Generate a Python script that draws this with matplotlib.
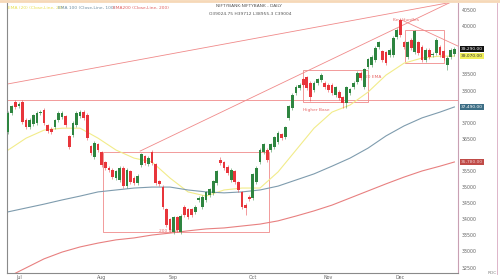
import numpy as np
import matplotlib
matplotlib.use("Agg")
import matplotlib.pyplot as plt
from matplotlib.patches import Rectangle

# daily candles, Jul - Dec (bar index = trading day)
opens = [36710, 37300, 37640, 37520, 37640, 37080, 36870, 36960, 36990, 37300,
         37390, 36900, 36800, 36870, 37080, 37180, 37180, 36560, 36620, 36930,
         37210, 37330, 37240, 36250, 35940, 36310, 36060, 35750, 35590, 35530,
         35280, 35220, 35590, 35030, 35470, 35280, 35130, 35690, 35940, 35720,
         36060, 35690, 35160, 35000, 34290, 33980, 33600, 34040, 33600, 34380,
         34290, 34290, 34230, 34600, 34380, 34600, 34750, 34820, 35130, 35840,
         35750, 35620, 35220, 35470, 35130, 34820, 34440, 34690, 34660, 35160,
         35780, 36090, 36150, 36150, 36250, 36400, 36620, 36560, 37150, 37460,
         37920, 38080, 38330, 38390, 38230, 38020, 38230, 38330, 38230, 38170,
         38170, 37860, 37950, 37770, 37610, 37920, 38110, 38260, 38540, 38110,
         38730, 38790, 38950, 39350, 39200, 39170, 39100, 39100, 39660, 40190,
         39480, 39040, 39570, 39200, 39480, 39350, 38950, 39260, 39100, 39170,
         39350, 39200, 38790, 39040, 39130]
closes = [37300, 37490, 37490, 37580, 37020, 36870, 37080, 37210, 37300, 37330,
          36990, 36740, 36710, 37080, 37300, 37300, 36930, 36250, 36990, 37300,
          37330, 37150, 36530, 36060, 36370, 36150, 35690, 35590, 35530, 35310,
          35470, 35590, 35030, 35530, 35160, 35130, 35340, 36000, 35750, 35900,
          35750, 35130, 35100, 34380, 33820, 33670, 34040, 33670, 34100, 34130,
          34070, 34130, 34380, 34660, 34690, 34820, 34910, 35160, 35470, 35750,
          35590, 35440, 35530, 35160, 34910, 34380, 34350, 34630, 35380, 35590,
          36150, 36310, 35840, 36310, 36530, 36680, 36530, 36840, 37490, 37860,
          38110, 38170, 38170, 38080, 37800, 38230, 38330, 38480, 38110, 38020,
          37920, 38080, 37770, 37610, 38080, 38020, 38230, 38540, 38390, 38640,
          38950, 39040, 39320, 39480, 38950, 38850, 39260, 39630, 39880, 39720,
          39350, 39480, 39320, 39820, 39170, 38950, 39260, 39040, 39130, 39570,
          39100, 39010, 39010, 39260, 39290]
highs = [37360, 37560, 37710, 37640, 37700, 37150, 37140, 37270, 37360, 37400,
         37450, 36950, 36860, 37130, 37350, 37360, 37230, 36620, 37050, 37360,
         37400, 37390, 37300, 36320, 36430, 36380, 36120, 35800, 35650, 35580,
         35530, 35650, 35650, 35600, 35530, 35340, 35400, 36060, 36010, 35960,
         36150, 35740, 35220, 35060, 34340, 34040, 34100, 34100, 34160, 34440,
         34350, 34350, 34440, 34720, 34750, 34880, 34970, 35220, 35530, 35930,
         35810, 35680, 35590, 35530, 35190, 34880, 34500, 34750, 35440, 35650,
         36210, 36370, 36210, 36370, 36590, 36740, 36680, 36900, 37550, 37920,
         38170, 38230, 38400, 38450, 38290, 38290, 38390, 38540, 38290, 38230,
         38230, 38140, 38010, 37830, 38140, 38080, 38290, 38600, 38600, 38700,
         39010, 39100, 39380, 39540, 39260, 39230, 39320, 39690, 39940, 40250,
         39540, 39540, 39630, 39880, 39540, 39410, 39320, 39320, 39200, 39630,
         39410, 39260, 39070, 39320, 39350]
lows = [36650, 37240, 37430, 37460, 36960, 36800, 36810, 36900, 36930, 37240,
        36930, 36680, 36650, 36810, 37020, 37120, 36870, 36190, 36560, 36870,
        37150, 37090, 36470, 36000, 35880, 36090, 35630, 35530, 35470, 35250,
        35220, 35160, 34970, 34970, 35100, 35070, 35070, 35630, 35690, 35660,
        35690, 35070, 35040, 34320, 33760, 33600, 33540, 33600, 33540, 34070,
        34010, 34070, 34170, 34540, 34320, 34540, 34690, 34750, 35070, 35690,
        35530, 35380, 35160, 35100, 34850, 34320, 34130, 34570, 34600, 35100,
        35720, 36030, 35780, 36090, 36190, 36340, 36470, 36500, 37090, 37400,
        37860, 38020, 38110, 38020, 37670, 37960, 38170, 38270, 38050, 37960,
        37860, 37800, 37710, 37460, 37460, 37860, 38050, 38200, 38330, 38050,
        38670, 38730, 38890, 39290, 38890, 38790, 39040, 39040, 39600, 39660,
        39290, 38980, 39260, 39140, 39100, 38890, 38890, 38980, 39040, 39100,
        39040, 38950, 38640, 38980, 39070]

# moving averages (every 5th bar)
ema_idx = [0, 5, 10, 15, 20, 25, 30, 35, 40, 45, 50, 55, 60, 65, 70, 75, 80,
           85, 90, 95, 100, 105, 110, 115, 120, 124]
ema20 = [36150, 36520, 36770, 36830, 36830, 36520, 36150, 35900, 35780, 35280,
         34850, 34720, 34910, 34970, 34970, 35470, 36150, 36830, 37330, 37550,
         37950, 38480, 38850, 39010, 39070, 39070]
ema100 = [34230, 34350, 34470, 34600, 34720, 34850, 34910, 34970, 35000, 35000,
          34910, 34850, 34820, 34850, 34910, 35030, 35220, 35410, 35650, 35900,
          36210, 36590, 36900, 37150, 37330, 37490]
ema200 = [32210, 32490, 32770, 32980, 33140, 33260, 33360, 33420, 33510, 33570,
          33640, 33700, 33730, 33790, 33850, 33950, 34100, 34260, 34440, 34660,
          34880, 35100, 35310, 35500, 35650, 35780]

month_pos = [3, 26, 46, 68, 89, 109]
month_lab = ["Jul", "Aug", "Sep", "Oct", "Nov", "Dec"]
yticks = list(range(32500, 41000, 500))

# annotations: trend lines (bar, price) pairs, boxes and notes
trend_lines = [([-0.3, 126.4], [38200, 40810]),
               ([36.7, 124.2], [36120, 40810]),
               ([109.4, 125.6], [40190, 39350]),
               ([-0.3, 125.0], [37705, 37705])]
boxes = [(26.4, 33605, 72.5, 36090),
         (82.0, 37643, 100.0, 38636),
         (110.3, 38854, 121.1, 39879)]
notes = [("Key Hurdles", 110.5, 40190), ("Higher Base", 85.5, 37390),
         ("20 EMA", 101.5, 38420), ("200 EMA", 44.5, 33630)]

up_c = "#2e8540"
dn_c = "#e8353b"
line_red = "#f08a8a"
ylo, yhi = 32330, 40720

fig = plt.figure(figsize=(5, 2.8), dpi=100)
ax = fig.add_axes([7 / 500, 7 / 280, 451 / 500, 270 / 280])

x = np.arange(len(opens))
o = np.array(opens); c = np.array(closes)
cols = np.where(c >= o, up_c, dn_c)
ax.vlines(x, lows, highs, color=cols, linewidth=0.5, alpha=0.7, zorder=3)
ax.bar(x, np.abs(c - o) + 15, bottom=np.minimum(o, c), width=0.75,
       color=cols, linewidth=0, zorder=4)

ax.plot(ema_idx, ema20, color="#f2ec8a", linewidth=0.8, zorder=2)
ax.plot(ema_idx, ema100, color="#7f9cae", linewidth=0.8, zorder=2)
ax.plot(ema_idx, ema200, color="#e88080", linewidth=0.8, zorder=2)

for xs, ys in trend_lines:
    ax.plot(xs, ys, color=line_red, linewidth=0.6, zorder=1)
for x0, y0, x1, y1 in boxes:
    ax.add_patch(Rectangle((x0, y0), x1 - x0, y1 - y0, fill=False,
                           edgecolor=line_red, linewidth=0.6, zorder=1))
for txt, nx, ny in notes:
    ax.text(nx, ny, txt, color="#e86a6a", fontsize=3.2, ha="center", va="center")

# price tags on the price scale (they cover the tick labels under them)
tags = [(closes[-1], "#111111", "white"), (ema20[-1], "#f0ee5a", "#333333"),
        (ema100[-1], "#3d6f86", "white"), (ema200[-1], "#c04b48", "#f0d0d0")]
shown = [t for t in yticks if min(abs(t - v) for v, _, _ in tags) > 230]

ax.set_xlim(-0.3, 125)
ax.set_ylim(ylo, yhi)
ax.set_xticks(month_pos)
ax.set_xticklabels(month_lab)
ax.set_yticks(shown)
ax.yaxis.tick_right()
ax.tick_params(axis="both", length=0, labelsize=3.4, labelcolor="#666666", pad=1.5)
ax.tick_params(axis="y", pad=3)
for lab in ax.get_yticklabels():
    lab.set_ha("left")
ax.spines["top"].set_visible(False)
ax.spines["left"].set_color("#8a8a8a")
ax.spines["bottom"].set_color("#8a8a8a")
ax.spines["right"].set_color("#c9a0b4")
for s in ax.spines.values():
    s.set_linewidth(0.8)

for val, bg, fg in tags:
    ax.text(1.006, (val - ylo) / (yhi - ylo), f"{val:,.2f}",
            transform=ax.transAxes, fontsize=3.2, color=fg, va="center", ha="left",
            bbox=dict(boxstyle="square,pad=0.25", fc=bg, ec="none"), zorder=6)

# legend row and title
fig.text(8 / 500, 1 - 8 / 280, "EMA (20) (Close,Line, 20)", color="#e8e050", fontsize=3.2, va="center")
fig.text(58 / 500, 1 - 8 / 280, "EMA 100 (Close,Line, 100)", color="#6f8fa3", fontsize=3.2, va="center")
fig.text(113 / 500, 1 - 8 / 280, "EMA200 (Close,Line, 200)", color="#e06060", fontsize=3.2, va="center")
fig.text(249 / 500, 1 - 6 / 280, "NIFTYBANK:NIFTYBANK - DAILY", color="#555555", fontsize=3.2, ha="center", va="center")
fig.text(250 / 500, 1 - 14 / 280, "O39024.75 H39712 L38955.3 C39004", color="#555555", fontsize=3.2, ha="center", va="center")
fig.text(492 / 500, 1 - 273 / 280, "RDC", color="#888888", fontsize=3.2, ha="center", va="center")

fig.add_artist(plt.Line2D([0, 1], [0.996, 0.996], color="#f6d8b8", linewidth=2))
fig.add_artist(plt.Line2D([497 / 500, 497 / 500], [0.02, 0.99], color="#d8a8c0", linewidth=0.6))

fig.savefig("out.png", dpi=100)
